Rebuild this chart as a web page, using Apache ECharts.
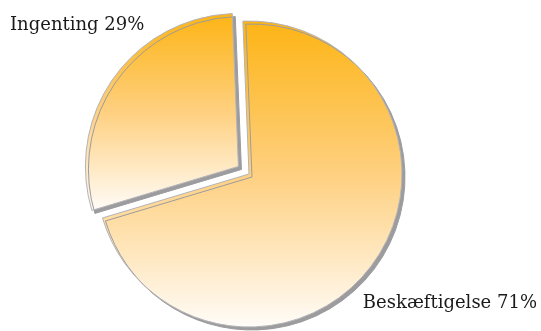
<!DOCTYPE html>
<html>
<head>
<meta charset="utf-8">
<script src="https://cdn.jsdelivr.net/npm/echarts@6/dist/echarts.min.js"></script>
<style>
  html, body { margin: 0; padding: 0; background: #fff; }
  #chart { width: 541px; height: 331px; }
</style>
</head>
<body>
<div id="chart"></div>
<script>
// Shares of the two groups, in percent
const categories = ['Beskæftigelse', 'Ingenting'];
const shares = [71, 29];
// The slice pulled out from the pie
const explodedCategory = 'Ingenting';

// Label anchor points (px) for each slice, in category order
const labelAnchors = [
  { x: 537, y: 303, align: 'right' },
  { x: 10, y: 25, align: 'left' }
];

const pieCenter = [249, 174];
const pieRadius = 153;
const startAngle = 92.3;
const explodeDistance = 13;

const sliceFill = {
  type: 'linear', x: 0, y: 0, x2: 0, y2: 1,
  colorStops: [
    { offset: 0, color: '#FDB414' },
    { offset: 0.5, color: '#FED080' },
    { offset: 1, color: '#FFFCF8' }
  ]
};

const visibleStyle = {
  color: sliceFill,
  borderColor: '#B3B3B8',
  borderWidth: 1,
  shadowColor: '#9C9C9E',
  shadowBlur: 0,
  shadowOffsetX: 3,
  shadowOffsetY: 3
};
const hiddenStyle = {
  color: 'rgba(0,0,0,0)',
  borderWidth: 0,
  shadowColor: 'rgba(0,0,0,0)'
};

// Direction of the pulled-out slice: the middle of its arc
const total = shares.reduce((s, v) => s + v, 0);
const explodedIndex = categories.indexOf(explodedCategory);
const before = shares.slice(0, explodedIndex).reduce((s, v) => s + v, 0);
const midDeg = startAngle - (before + shares[explodedIndex] / 2) / total * 360;
const midRad = midDeg * Math.PI / 180;
const explodedCenter = [
  pieCenter[0] + explodeDistance * Math.cos(midRad),
  pieCenter[1] - explodeDistance * Math.sin(midRad)
];

function pieSeries(center, showExploded) {
  return {
    type: 'pie',
    center: center,
    radius: [0, pieRadius],
    startAngle: startAngle,
    clockwise: true,
    avoidLabelOverlap: false,
    silent: true,
    emphasis: { disabled: true },
    label: {
      show: true,
      position: 'outside',
      formatter: (p) => p.name + ' ' + p.value + '%',
      fontFamily: 'DejaVu Serif',
      fontSize: 18,
      color: '#1a1a1a'
    },
    labelLine: { show: false },
    labelLayout: (params) => {
      const a = labelAnchors[params.dataIndex];
      return { x: a.x, y: a.y, align: a.align, verticalAlign: 'middle' };
    },
    data: categories.map((name, i) => {
      const visible = (name === explodedCategory) === showExploded;
      return {
        name: name,
        value: shares[i],
        itemStyle: visible ? visibleStyle : hiddenStyle,
        label: { show: visible }
      };
    })
  };
}

const chart = echarts.init(document.getElementById('chart'), null, { renderer: 'canvas' });

chart.setOption({
  animation: false,
  backgroundColor: '#ffffff',
  series: [
    pieSeries(pieCenter, false),
    pieSeries(explodedCenter, true)
  ]
});
</script>
</body>
</html>
